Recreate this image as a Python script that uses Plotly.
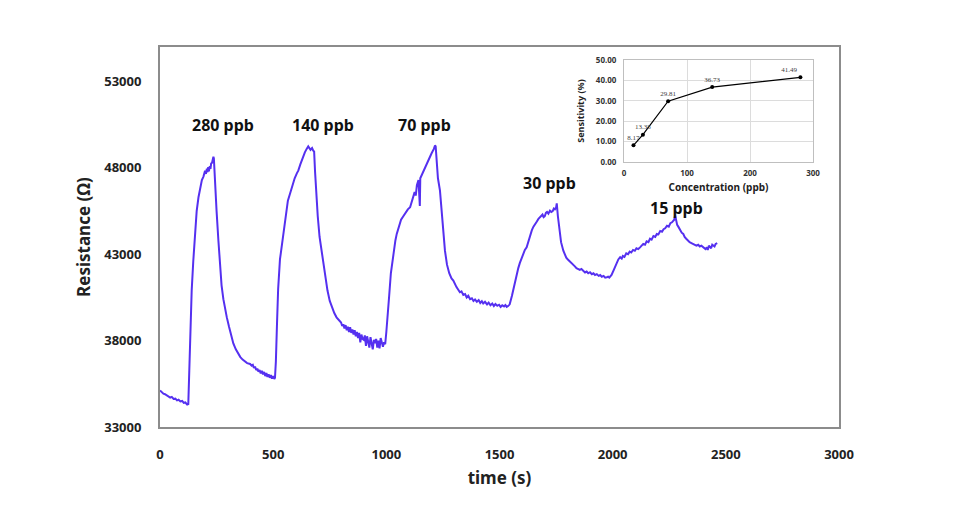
import plotly.graph_objects as go

# ---- main trace: time (s) vs resistance (ohm) ----
time_s = [
    0, 8, 15, 22, 30, 38, 45, 52, 60, 68, 75, 82, 90, 98, 105, 112, 120, 125,
    130, 135, 140, 147, 155, 162, 170, 178, 185, 192, 199, 203, 207, 210, 213, 216, 220, 223, 226, 230, 233, 236, 238,
    242, 246, 250, 258, 265, 272, 280, 288, 295, 305, 315, 324, 335, 345, 355, 365, 375, 385, 398,
    405, 410, 415, 420, 425, 430, 435, 440, 445, 450, 455, 460, 465, 470, 475, 480, 485, 490, 495, 500, 505, 508,
    512, 517, 522, 530, 537, 545, 555, 565, 574, 585, 595, 605, 611, 620, 630, 640, 648, 655, 665, 672, 677, 681,
    685, 690, 697, 705, 713, 722, 730, 740, 750, 759, 770, 780, 790, 800, 805, 810, 815, 820, 825, 830, 835, 840,
    845, 850, 855, 860, 865, 870, 875, 880, 885, 890, 895, 900, 905, 910, 915, 920, 925, 930, 935, 940, 945, 950,
    955, 960, 965, 970, 975, 980, 985, 990, 995,
    1000, 1005, 1012, 1020, 1030, 1040, 1046, 1055, 1065, 1075, 1085, 1095, 1105, 1115, 1125, 1130, 1135,
    1142, 1145, 1148, 1150, 1160, 1170, 1180, 1190, 1200, 1210, 1215, 1218,
    1222, 1228, 1237, 1245, 1252, 1259, 1268, 1278, 1288, 1296, 1310, 1318, 1325, 1332, 1340, 1348, 1355, 1362,
    1370, 1378, 1385, 1392, 1400, 1408, 1415, 1422, 1428, 1436, 1445, 1452, 1460, 1468, 1475, 1482, 1490, 1498,
    1505, 1512, 1520, 1526, 1532, 1538, 1545,
    1555, 1565, 1576, 1583, 1590, 1598, 1605, 1612, 1620, 1628, 1635, 1643, 1650, 1658, 1665, 1672, 1679, 1685,
    1690, 1695, 1700, 1705, 1710, 1716, 1723, 1729, 1735, 1740, 1745, 1750, 1753,
    1758, 1765, 1772, 1782, 1789, 1795, 1802, 1810, 1818, 1826, 1833, 1840, 1848, 1855, 1862, 1870, 1878, 1885,
    1892, 1900, 1908, 1915, 1922, 1930, 1938, 1945, 1952, 1960, 1967, 1974, 1980, 1985, 1990, 1995,
    2005, 2015, 2025, 2033, 2040, 2045, 2052, 2060, 2068, 2075, 2082, 2090, 2098, 2105, 2113, 2121, 2128, 2135,
    2143, 2150, 2158, 2165, 2172, 2180, 2188, 2195, 2202, 2210, 2218, 2225, 2232, 2240, 2248, 2255, 2262, 2268, 2272, 2276,
    2280, 2285, 2290, 2295, 2300, 2305, 2312, 2318, 2325, 2332, 2340, 2348, 2357, 2363, 2370, 2378, 2385, 2392,
    2400, 2405, 2410, 2416, 2420, 2425, 2430, 2435, 2440, 2445, 2450, 2455, 2462,
]
resistance = [
    35120, 35000, 34930, 34900, 34820, 34790, 34700, 34740, 34620, 34640, 34540, 34580, 34480, 34510, 34400, 34420, 34300, 34330,
    36500, 39000, 40900, 42600, 44300, 45500, 46300, 46900, 47300, 47500, 47840, 47650, 47950, 47750, 48050, 47800, 48100, 47950, 48250, 48300, 48500, 48650, 48550,
    47400, 46400, 45500, 43800, 42250, 41200, 40400, 39800, 39360, 38800, 38300, 37840, 37500, 37250, 37050, 36900, 36820, 36700, 36650,
    36550, 36600, 36420, 36500, 36300, 36380, 36200, 36300, 36100, 36250, 36050, 36180, 35950, 36120, 35900, 36050, 35850, 36000, 35800, 35950, 35780, 35850,
    36800, 39000, 41000, 42700, 43400, 44300, 45300, 46100, 46490, 47000, 47400, 47700, 47840, 48200, 48600, 48900, 49100, 49250, 49050, 49150, 49000, 48950,
    47800, 46500, 45200, 44000, 43300, 42630, 41700, 40900, 40300, 39940, 39600, 39350, 39200, 39050, 38850, 38950, 38700, 38900, 38600, 38800, 38500, 38780,
    38450, 38650, 38350, 38600, 38250, 38500, 38150, 38450, 37900, 38350, 38100, 38050, 38300, 37700, 38250, 38000, 37600, 38200, 37900, 37500, 38050, 37850,
    38100, 37600, 38000, 37550, 38150, 37820, 37650, 37900, 37800,
    38500, 39200, 40500, 41900, 43000, 43800, 44180, 44600, 45000, 45200, 45400, 45600, 45720, 46100, 46600, 46400, 47000,
    47300, 46500, 45800, 47400, 47700, 48050, 48300, 48600, 48850, 49100, 49300, 49250,
    48200, 47400, 46680, 45300, 44200, 43210, 42400, 41900, 41600, 41480, 41100, 40950, 40800, 40850, 40650, 40700, 40500, 40600,
    40400, 40450, 40300, 40380, 40250, 40350, 40180, 40280, 40150, 40250, 40100, 40200, 40050, 40150, 40000, 40120, 40020, 40080,
    39950, 40050, 39980, 40060, 39950, 40000, 40100,
    40600, 41200, 41865, 42200, 42500, 42800, 43000, 43250, 43400, 43800, 44000, 44400, 44600, 44800, 44900, 45050, 45140, 45250,
    45300, 45150, 45200, 45400, 45450, 45350, 45525, 45450, 45500, 45650, 45600, 45700, 45950,
    45200, 44300, 43700, 43210, 43000, 42800, 42700, 42600, 42500, 42440, 42300, 42200, 42150, 42100, 42150, 42050, 41950, 42000,
    41900, 41960, 41850, 41900, 41800, 41850, 41750, 41800, 41700, 41750, 41650, 41670, 41700, 41650, 41750, 41800,
    42100, 42400, 42700, 42830, 42750, 42900, 42850, 43050, 43000, 43150, 43100, 43250, 43200, 43350, 43300, 43400, 43500, 43600,
    43550, 43750, 43700, 43900, 43850, 44050, 44000, 44180, 44150, 44350, 44300, 44450, 44500, 44650, 44600, 44800, 44850, 44950, 45000, 45250,
    44950, 44700, 44600, 44450, 44350, 44250, 44180, 44000, 43900, 43800, 43700, 43650, 43600, 43550, 43500, 43550, 43450, 43500,
    43400, 43350, 43300, 43400, 43250, 43500, 43450, 43350, 43550, 43500, 43450, 43600, 43650,
]

# ---- peak labels ----
peak_labels = ["280 ppb", "140 ppb", "70 ppb", "30 ppb", "15 ppb"]
peak_label_x = [280, 720, 1170, 1720, 2280]
peak_label_y = [50500, 50500, 50500, 47100, 45700]

# ---- inset: sensitivity vs concentration ----
conc_ppb = [15, 30, 70, 140, 280]
sensitivity = [8.17, 13.38, 29.81, 36.73, 41.49]
sens_labels = ["8.17", "13.38", "29.81", "36.73", "41.49"]

x_ticks = [0, 500, 1000, 1500, 2000, 2500, 3000]
y_ticks = [33000, 38000, 43000, 48000, 53000]
inset_x_ticks = [0, 100, 200, 300]
inset_y_ticks = [0, 10, 20, 30, 40, 50]

FONT = "Noto Sans"
LINE_COLOR = "#5530F0"

fig = go.Figure()
fig.add_trace(go.Scatter(
    x=time_s, y=resistance, mode="lines",
    line=dict(color=LINE_COLOR, width=2), showlegend=False,
    xaxis="x", yaxis="y",
))
fig.add_trace(go.Scatter(
    x=conc_ppb, y=sensitivity, mode="lines+markers+text",
    text=sens_labels,
    textposition=["top center", "top center", "top center", "top center", "top left"],
    textfont=dict(family="Liberation Serif", size=7, color="#404040"),
    line=dict(color="#000000", width=1.2),
    marker=dict(color="#000000", size=4),
    showlegend=False, xaxis="x2", yaxis="y2", cliponaxis=False,
))

for lab, lx, ly in zip(peak_labels, peak_label_x, peak_label_y):
    fig.add_annotation(x=lx, y=ly, xref="x", yref="y", text=f"<b>{lab}</b>",
                       showarrow=False, font=dict(family=FONT, size=16, color="#111111"))

# the page adds an 8px body margin, so the figure is 8px smaller in each direction
fig.update_layout(
    width=942, height=510,
    margin=dict(l=152, r=111, t=39, b=91, autoexpand=False),
    paper_bgcolor="white", plot_bgcolor="white",
    font=dict(family=FONT, color="#222222"),
    xaxis=dict(
        range=[0, 3000], tickvals=x_ticks, ticktext=[f"<b>{v}</b>" for v in x_ticks],
        showgrid=False, zeroline=False, showline=True, mirror=True, automargin=False,
        linecolor="#8c8c8c", linewidth=2, ticks="", ticklabelstandoff=14,
        tickfont=dict(family=FONT, size=13, color="#222222"),
        title=dict(text="<b>time (s)</b>", font=dict(family=FONT, size=17, color="#222222"), standoff=11),
        domain=[0, 1],
    ),
    yaxis=dict(
        range=[33000, 55000], tickvals=y_ticks, ticktext=[f"<b>{v}</b>" for v in y_ticks],
        showgrid=False, zeroline=False, showline=True, mirror=True, automargin=False,
        linecolor="#8c8c8c", linewidth=2, ticks="", ticklabelstandoff=14,
        tickfont=dict(family=FONT, size=13, color="#222222"),
        title=dict(text="<b>Resistance (Ω)</b>", font=dict(family=FONT, size=17, color="#222222"), standoff=9),
        domain=[0, 1],
    ),
    xaxis2=dict(
        range=[0, 300], tickvals=inset_x_ticks, ticktext=[f"<b>{v}</b>" for v in inset_x_ticks],
        domain=[0.6834, 0.9617], anchor="y2", automargin=False,
        showgrid=True, gridcolor="#dcdcdc", gridwidth=1, zeroline=False,
        showline=True, mirror=True, linecolor="#bfbfbf", linewidth=1, ticks="", ticklabelstandoff=3,
        tickfont=dict(family=FONT, size=8, color="#333333"),
        title=dict(text="<b>Concentration (ppb)</b>", font=dict(family=FONT, size=10, color="#222222"), standoff=7),
    ),
    yaxis2=dict(
        range=[0, 50], tickvals=inset_y_ticks, ticktext=[f"<b>{v:.2f}</b>" for v in inset_y_ticks],
        domain=[0.6974, 0.9658], anchor="x2", automargin=False,
        showgrid=True, gridcolor="#dcdcdc", gridwidth=1, zeroline=False,
        showline=True, mirror=True, linecolor="#bfbfbf", linewidth=1, ticks="", ticklabelstandoff=5,
        tickfont=dict(family=FONT, size=8, color="#333333"),
        title=dict(text="<b>Sensitivity (%)</b>", font=dict(family=FONT, size=9, color="#222222"), standoff=9),
    ),
)

fig.write_html("out.html")
